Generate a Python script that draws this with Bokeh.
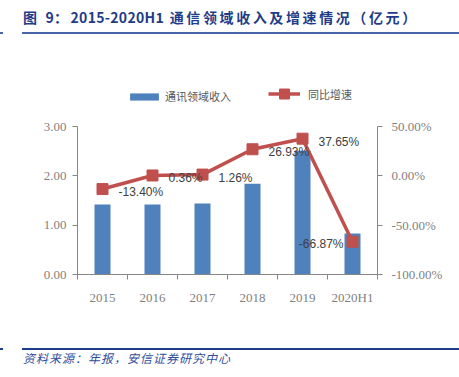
import re
from bokeh.plotting import figure
from bokeh.layouts import column
from bokeh.models import (Range1d, LinearAxis, FixedTicker, CustomJSTickFormatter,
                          NumeralTickFormatter, Legend, LegendItem, LabelSet, Div,
                          ColumnDataSource)
from bokeh.core.properties import value
from bokeh.embed import file_html
from bokeh.resources import INLINE

categories = ["2015", "2016", "2017", "2018", "2019", "2020H1"]
revenue = [1.42, 1.42, 1.44, 1.84, 2.51, 0.83]
growth = [-0.1340, 0.0036, 0.0126, 0.2693, 0.3765, -0.6687]
growth_labels = ["-13.40%", "0.36%", "1.26%", "26.93%", "37.65%", "-66.87%"]
left_ticks = [0, 1, 2, 3]
right_ticks = [-1.0, -0.5, 0.0, 0.5]
title_text = "图 9：2015-2020H1 通信领域收入及增速情况（亿元）"
footer_text = "资料来源：年报，安信证券研究中心"
legend_bar = "通讯领域收入"
legend_line = "同比增速"

n = len(categories)
xs = [i + 0.5 for i in range(n)]
src = ColumnDataSource(dict(x=xs, rev=revenue, g=growth, lab=growth_labels))
src_main = ColumnDataSource(dict(x=xs[:-1], g=growth[:-1], lab=growth_labels[:-1]))
src_last = ColumnDataSource(dict(x=xs[-1:], g=growth[-1:], lab=growth_labels[-1:]))

AXIS = "#868686"
TICKC = "#7F7F7F"
SERIF = "Liberation Serif"
NAVY = "#1F3C88"

# frame: x 77..377, y 80..274 (canvas); axes bounded to their value span
lo, hi = 0.0, 3.0
frame_px, span_px = 194.0, 148.0
ext = frame_px / span_px
p = figure(width=459, height=305, output_backend="svg", toolbar_location=None,
           x_range=Range1d(0, n), y_range=Range1d(lo, lo + (hi - lo) * ext),
           min_border_left=77, min_border_right=82, min_border_top=40,
           min_border_bottom=71, x_axis_type=None, y_axis_type=None)
p.extra_y_ranges = {"pct": Range1d(right_ticks[0],
                                   right_ticks[0] + (right_ticks[-1] - right_ticks[0]) * ext)}
p.outline_line_color = None

xaxis = LinearAxis(ticker=FixedTicker(ticks=xs, minor_ticks=list(range(n + 1))),
                   formatter=CustomJSTickFormatter(args=dict(labels=categories),
                                                   code="return labels[Math.floor(tick)]"))
yl = LinearAxis(ticker=FixedTicker(ticks=left_ticks), formatter=NumeralTickFormatter(format="0.00"),
                bounds=(lo, hi))
yr = LinearAxis(y_range_name="pct", ticker=FixedTicker(ticks=right_ticks),
                formatter=NumeralTickFormatter(format="0.00%"),
                bounds=(right_ticks[0], right_ticks[-1]))
for ax in (xaxis, yl, yr):
    ax.axis_line_color = AXIS
    ax.major_tick_line_color = AXIS
    ax.minor_tick_line_color = AXIS
    ax.major_tick_in = 0
    ax.minor_tick_in = 0
    ax.major_label_text_font = SERIF
    ax.major_label_text_font_size = "13px"
    ax.major_label_text_color = TICKC
xaxis.major_tick_out = 0
xaxis.minor_tick_out = 5
xaxis.major_label_standoff = 10
yl.major_tick_out = 5
yl.minor_tick_out = 0
yl.major_label_standoff = 6
yr.major_tick_out = 5
yr.minor_tick_out = 0
yr.major_label_standoff = 9
p.add_layout(xaxis, "below")
p.add_layout(yl, "left")
p.add_layout(yr, "right")

bars = p.vbar(x="x", top="rev", width=0.32, source=src, fill_color="#4F81BD", line_color=None)
ln = p.line("x", "g", source=src, y_range_name="pct", line_color="#C0504D", line_width=3.5)
sc = p.scatter("x", "g", source=src, y_range_name="pct", marker="square", size=11,
               fill_color="#C0504D", line_color="#C0504D")

lab_style = dict(x="x", y="g", text="lab", y_range_name="pct",
                 text_baseline="middle", text_font_size="12px", text_color="#404040",
                 text_font=value("Liberation Sans"))
p.add_layout(LabelSet(source=src_main, x_offset=16, y_offset=-3, text_align="left", **lab_style))
p.add_layout(LabelSet(source=src_last, x_offset=-9, y_offset=-2, text_align="right", **lab_style))

leg1 = Legend(items=[LegendItem(label=legend_bar, renderers=[bars])],
              location=(49, 170), orientation="horizontal", glyph_width=36, glyph_height=9,
              label_standoff=3, padding=0, margin=0, border_line_color=None,
              background_fill_alpha=0, label_text_font="Noto Sans CJK SC",
              label_text_font_size="11px", label_text_color="#595959")
leg2 = Legend(items=[LegendItem(label=legend_line, renderers=[ln, sc])],
              location=(191, 168), orientation="horizontal", glyph_width=32, glyph_height=25,
              label_standoff=8, padding=0, margin=0, border_line_color=None,
              background_fill_alpha=0, label_text_font="Noto Sans CJK SC",
              label_text_font_size="11px", label_text_color="#595959")
p.add_layout(leg1)
p.add_layout(leg2)

title_marked = re.sub(r"([0-9A-Za-z\-]+)", r'<span style="letter-spacing:0.3px;">\1</span>', title_text)
title_html = (
    '<div style="position:relative;width:459px;height:40px;">'
    '<div style="position:absolute;left:23px;top:8px;line-height:18px;white-space:nowrap;'
    "font-family:'Noto Sans CJK SC';font-weight:bold;font-size:14px;letter-spacing:2.6px;"
    f'color:{NAVY};">{title_marked}</div>'
    '<div style="position:absolute;left:22px;top:32px;width:437px;height:2px;background:#4A64A8;"></div>'
    '<div style="position:absolute;left:0px;top:32px;width:3px;height:2px;background:#4A64A8;"></div>'
    '</div>'
)
footer_html = (
    '<div style="position:relative;width:459px;height:32px;">'
    f'<div style="position:absolute;left:22px;top:3px;width:437px;height:2px;background:{NAVY};"></div>'
    f'<div style="position:absolute;left:0px;top:3px;width:3px;height:2px;background:{NAVY};"></div>'
    '<div style="position:absolute;left:23px;top:5px;line-height:16px;white-space:nowrap;'
    "font-family:'Noto Sans CJK SC';font-style:italic;font-size:12px;letter-spacing:1px;"
    f'color:#2F4D9A;">{footer_text}</div>'
    '</div>'
)
title_div = Div(text=title_html, width=459, height=40, margin=(0, 0, 0, 0))
footer_div = Div(text=footer_html, width=459, height=32, margin=(0, 0, 0, 0))

layout = column(title_div, p, footer_div, spacing=0)
open("out.html", "w").write(file_html(layout, INLINE))
